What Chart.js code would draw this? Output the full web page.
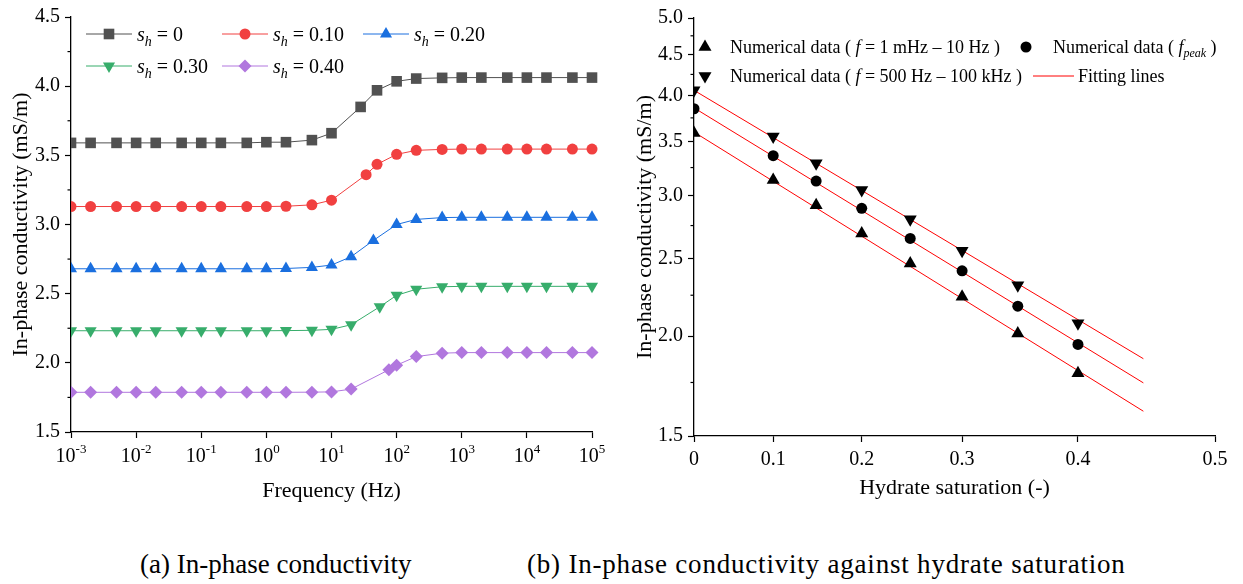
<!DOCTYPE html>
<html>
<head>
<meta charset="utf-8">
<script src="https://cdn.jsdelivr.net/npm/chart.js@4.4.1/dist/chart.umd.min.js"></script>
<style>
  html, body { margin: 0; padding: 0; background: #fff; }
  body { width: 1243px; height: 584px; position: relative; overflow: hidden; font-family: "Liberation Serif", "Times New Roman", serif; }
  #left { position: absolute; left: 0; top: 0; }
  #right { position: absolute; left: 620px; top: 0; }
  .cap { position: absolute; top: 549px; font-size: 27px; color: #000; white-space: nowrap; }
</style>
</head>
<body>
<canvas id="left" width="620" height="515"></canvas>
<canvas id="right" width="623" height="515"></canvas>
<div class="cap" style="left:140px">(a) In-phase conductivity</div>
<div class="cap" style="left:527px; letter-spacing:0.8px">(b) In-phase conductivity against hydrate saturation</div>
<script>
// ---- (a) conductivity vs frequency ----
var shLabels = ['0', '0.10', '0.20', '0.30', '0.40'];

var freqSh0  = [0.001, 0.002, 0.005, 0.01, 0.02, 0.05, 0.1, 0.2, 0.5, 1, 2, 5, 10, 28, 50, 100, 200, 500, 1000, 2000, 5000, 10000, 20000, 50000, 100000];
var freqSh10 = [0.001, 0.002, 0.005, 0.01, 0.02, 0.05, 0.1, 0.2, 0.5, 1, 2, 5, 10, 34, 50, 100, 200, 500, 1000, 2000, 5000, 10000, 20000, 50000, 100000];
var freqSh20 = [0.001, 0.002, 0.005, 0.01, 0.02, 0.05, 0.1, 0.2, 0.5, 1, 2, 5, 10, 20, 44, 100, 200, 500, 1000, 2000, 5000, 10000, 20000, 50000, 100000];
var freqSh30 = [0.001, 0.002, 0.005, 0.01, 0.02, 0.05, 0.1, 0.2, 0.5, 1, 2, 5, 10, 20, 55, 100, 200, 500, 1000, 2000, 5000, 10000, 20000, 50000, 100000];
var freqSh40 = [0.001, 0.002, 0.005, 0.01, 0.02, 0.05, 0.1, 0.2, 0.5, 1, 2, 5, 10, 20, 76, 100, 200, 500, 1000, 2000, 5000, 10000, 20000, 50000, 100000];

var condSh0  = [3.59, 3.59, 3.59, 3.59, 3.59, 3.59, 3.59, 3.59, 3.59, 3.595, 3.595, 3.61, 3.66, 3.85, 3.97, 4.035, 4.055, 4.06, 4.062, 4.062, 4.062, 4.062, 4.062, 4.062, 4.062];
var condSh10 = [3.13, 3.13, 3.13, 3.13, 3.13, 3.13, 3.13, 3.13, 3.13, 3.13, 3.132, 3.142, 3.176, 3.36, 3.435, 3.507, 3.536, 3.543, 3.545, 3.545, 3.545, 3.545, 3.545, 3.545, 3.545];
var condSh20 = [2.68, 2.68, 2.68, 2.68, 2.68, 2.68, 2.68, 2.68, 2.68, 2.68, 2.682, 2.69, 2.707, 2.767, 2.885, 3.0, 3.037, 3.05, 3.052, 3.052, 3.052, 3.052, 3.052, 3.052, 3.052];
var condSh30 = [2.232, 2.232, 2.232, 2.232, 2.232, 2.232, 2.232, 2.232, 2.232, 2.232, 2.233, 2.235, 2.242, 2.275, 2.405, 2.488, 2.532, 2.55, 2.553, 2.553, 2.553, 2.553, 2.553, 2.553, 2.553];
var condSh40 = [1.787, 1.787, 1.787, 1.787, 1.787, 1.787, 1.787, 1.787, 1.787, 1.787, 1.787, 1.788, 1.79, 1.81, 1.95, 1.983, 2.045, 2.07, 2.074, 2.074, 2.074, 2.074, 2.074, 2.074, 2.074];

var freqTicks = [1e-3, 1e-2, 1e-1, 1e0, 1e1, 1e2, 1e3, 1e4, 1e5];
var freqTickExp = ['-3', '-2', '-1', '0', '1', '2', '3', '4', '5'];
var condTicks = [1.5, 2.0, 2.5, 3.0, 3.5, 4.0, 4.5];
var condMinor = [1.75, 2.25, 2.75, 3.25, 3.75, 4.25];

// ---- (b) conductivity vs hydrate saturation ----
var satX      = [0, 0.1, 0.15, 0.2, 0.25, 0.3, 0.35, 0.4];
var condLowF  = [3.59, 3.135, 2.915, 2.688, 2.466, 2.24, 2.015, 1.797];
var condPeak  = [3.85, 3.363, 3.126, 2.89, 2.65, 2.414, 2.18, 1.953];
var condHighF = [4.06, 3.553, 3.29, 3.046, 2.8, 2.557, 2.316, 2.076];

var fitX     = [0, 0.45];
var fitLowF  = [3.60, 1.611];
var fitPeak  = [3.86, 1.748];
var fitHighF = [4.06, 1.874];

var satTicks = [0, 0.1, 0.2, 0.3, 0.4, 0.5];
var satTickLabels = ['0', '0.1', '0.2', '0.3', '0.4', '0.5'];
var logTicks = [1.5, 2.0, 2.5, 3.0, 3.5, 4.0, 4.5, 5.0];
var logMinor = [1.75, 2.25, 2.75, 3.25, 3.75, 4.25, 4.75];

var SERIF = '"Liberation Serif", "Times New Roman", serif';

function toXY(xs, ys) {
    return xs.map(function(x, i) { return { x: x, y: ys[i] }; });
}

// small marker painter for the hand-drawn legends
function marker(ctx, style, x, y, r, color) {
    ctx.save();
    ctx.fillStyle = color;
    ctx.beginPath();
    if (style === 'rect') {
        var h = r * Math.SQRT1_2;
        ctx.rect(x - h, y - h, 2 * h, 2 * h);
    } else if (style === 'circle') {
        ctx.arc(x, y, r, 0, Math.PI * 2);
    } else if (style === 'triangle' || style === 'triangleDown') {
        var s = style === 'triangle' ? 1 : -1;
        ctx.moveTo(x, y - s * r);
        ctx.lineTo(x + r * 0.866, y + s * r * 0.5);
        ctx.lineTo(x - r * 0.866, y + s * r * 0.5);
        ctx.closePath();
    } else if (style === 'rectRot') {
        ctx.moveTo(x, y - r); ctx.lineTo(x + r, y); ctx.lineTo(x, y + r); ctx.lineTo(x - r, y);
        ctx.closePath();
    }
    ctx.fill();
    ctx.restore();
}

// x axis of (b): positions follow -ln(1 - sh)
class SaturationScale extends Chart.LinearScale {
    buildTicks() {
        return satTicks.map(function(v) { return { value: v }; });
    }
    configure() {
        super.configure();
        this._t0 = -Math.log(1 - this.min);
        this._t1 = -Math.log(1 - this.max);
    }
    getPixelForValue(v) {
        var t = -Math.log(1 - v);
        return this.getPixelForDecimal((t - this._t0) / (this._t1 - this._t0));
    }
    getValueForPixel(p) {
        var t = this._t0 + this.getDecimalForPixel(p) * (this._t1 - this._t0);
        return 1 - Math.exp(-t);
    }
}
SaturationScale.id = 'saturation';
SaturationScale.defaults = {};
Chart.register(SaturationScale);

var axisCommon = {
    grid: { drawOnChartArea: false, drawTicks: true, tickLength: 6, color: '#000', tickWidth: 1.2 },
    border: { display: true, color: '#000', width: 1.3 }
};

// ---------- chart (a) ----------
var shColors = ['#515151', '#F14040', '#1A6FDF', '#37AD6B', '#B177DE'];
var shStyles = [
    { style: 'rect', rot: 0, r: 7.5 },
    { style: 'circle', rot: 0, r: 5.5 },
    { style: 'triangle', rot: 0, r: 7 },
    { style: 'triangle', rot: 180, r: 7 },
    { style: 'rectRot', rot: 0, r: 6.5 }
];
var shFreq = [freqSh0, freqSh10, freqSh20, freqSh30, freqSh40];
var shCond = [condSh0, condSh10, condSh20, condSh30, condSh40];

var leftSets = shLabels.map(function(lab, i) {
    return {
        label: 's_h = ' + lab,
        data: toXY(shFreq[i], shCond[i]),
        borderColor: shColors[i],
        borderWidth: 1,
        backgroundColor: shColors[i],
        pointBackgroundColor: shColors[i],
        pointBorderColor: shColors[i],
        pointBorderWidth: 0,
        pointStyle: shStyles[i].style,
        pointRotation: shStyles[i].rot,
        pointRadius: shStyles[i].r,
        tension: 0,
        clip: { left: 0, top: false, right: false, bottom: 0 }
    };
});

var leftLegendPos = [
    { x: 86, y: 34 }, { x: 222, y: 34 }, { x: 363, y: 34 },
    { x: 86, y: 66 }, { x: 222, y: 66 }
];

var leftDecor = {
    id: 'leftDecor',
    afterDraw: function(chart) {
        var ctx = chart.ctx, area = chart.chartArea;
        var xs = chart.scales.x, ys = chart.scales.y;
        ctx.save();
        ctx.strokeStyle = '#000';
        ctx.lineWidth = 1.2;
        condMinor.forEach(function(v) {
            var py = ys.getPixelForValue(v);
            ctx.beginPath(); ctx.moveTo(area.left - 3.5, py); ctx.lineTo(area.left, py); ctx.stroke();
        });

        // decade labels with superscripts
        ctx.fillStyle = '#000';
        ctx.textBaseline = 'alphabetic';
        freqTicks.forEach(function(v, i) {
            var px = xs.getPixelForValue(v);
            ctx.font = '20px ' + SERIF;
            var wb = ctx.measureText('10').width;
            ctx.font = '13px ' + SERIF;
            var we = ctx.measureText(freqTickExp[i]).width;
            var x0 = px - (wb + we) / 2;
            ctx.font = '20px ' + SERIF;
            ctx.textAlign = 'left';
            ctx.fillText('10', x0, 462);
            ctx.font = '13px ' + SERIF;
            ctx.fillText(freqTickExp[i], x0 + wb, 453);
        });

        // axis titles
        ctx.font = '22px ' + SERIF;
        ctx.textAlign = 'center';
        ctx.fillText('Frequency (Hz)', (area.left + area.right) / 2, 497);
        ctx.save();
        ctx.translate(27, (area.top + area.bottom) / 2);
        ctx.rotate(-Math.PI / 2);
        ctx.fillText('In-phase conductivity (mS/m)', 0, 0);
        ctx.restore();

        // legend
        leftLegendPos.forEach(function(p, i) {
            ctx.strokeStyle = shColors[i];
            ctx.lineWidth = 1;
            ctx.beginPath(); ctx.moveTo(p.x, p.y); ctx.lineTo(p.x + 46, p.y); ctx.stroke();
            marker(ctx, shStyles[i].rot ? 'triangleDown' : shStyles[i].style, p.x + 23, p.y, shStyles[i].r, shColors[i]);
            ctx.fillStyle = '#000';
            ctx.textAlign = 'left';
            var tx = p.x + 51, by = p.y + 7;
            ctx.font = 'italic 20px ' + SERIF;
            ctx.fillText('s', tx, by);
            tx += ctx.measureText('s').width;
            ctx.font = 'italic 14px ' + SERIF;
            ctx.fillText('h', tx, by + 5);
            tx += ctx.measureText('h').width;
            ctx.font = '20px ' + SERIF;
            ctx.fillText(' = ' + shLabels[i], tx, by);
        });
        ctx.restore();
    }
};

new Chart(document.getElementById('left'), {
    type: 'line',
    data: { datasets: leftSets },
    options: {
        responsive: false,
        animation: false,
        layout: { padding: { left: 0, top: 14, right: 28, bottom: 0 } },
        plugins: { legend: { display: false }, tooltip: { enabled: false } },
        scales: {
            x: Object.assign({}, axisCommon, {
                type: 'logarithmic',
                min: 1e-3,
                max: 1e5,
                afterBuildTicks: function(s) { s.ticks = freqTicks.map(function(v) { return { value: v }; }); },
                ticks: { display: false },
                afterFit: function(s) { s.height = 83; }
            }),
            y: Object.assign({}, axisCommon, {
                type: 'linear',
                min: 1.5,
                max: 4.5,
                afterBuildTicks: function(s) { s.ticks = condTicks.map(function(v) { return { value: v }; }); },
                ticks: { color: '#000', padding: 5, font: { family: SERIF, size: 20 }, callback: function(v) { return v.toFixed(1); } },
                afterFit: function(s) { s.width = 71; }
            })
        }
    },
    plugins: [leftDecor]
});

// ---------- chart (b) ----------
var rightSets = [
    { label: 'Numerical data ( f = 1 mHz – 10 Hz )', data: toXY(satX, condLowF), pointStyle: 'triangle', pointRotation: 0, pointRadius: 7.5 },
    { label: 'Numerical data ( f_peak )', data: toXY(satX, condPeak), pointStyle: 'circle', pointRotation: 0, pointRadius: 5.5 },
    { label: 'Numerical data ( f = 500 Hz – 100 kHz )', data: toXY(satX, condHighF), pointStyle: 'triangle', pointRotation: 180, pointRadius: 7.5 }
].map(function(d) {
    return Object.assign(d, {
        showLine: false,
        backgroundColor: '#000',
        borderColor: '#000',
        pointBorderWidth: 0,
        clip: { left: 0, top: false, right: false, bottom: 0 }
    });
});
[fitLowF, fitPeak, fitHighF].forEach(function(f) {
    rightSets.push({
        label: 'Fitting lines',
        data: toXY(fitX, f),
        showLine: true,
        borderColor: '#FF0000',
        borderWidth: 1,
        pointRadius: 0,
        clip: { left: 0, top: false, right: false, bottom: 0 }
    });
});

var rightDecor = {
    id: 'rightDecor',
    afterDraw: function(chart) {
        var ctx = chart.ctx, area = chart.chartArea;
        var ys = chart.scales.y;
        ctx.save();
        ctx.strokeStyle = '#000';
        ctx.lineWidth = 1.2;
        logMinor.forEach(function(v) {
            var py = ys.getPixelForValue(v);
            ctx.beginPath(); ctx.moveTo(area.left - 3.5, py); ctx.lineTo(area.left, py); ctx.stroke();
        });

        ctx.fillStyle = '#000';
        ctx.font = '22px ' + SERIF;
        ctx.textAlign = 'center';
        ctx.fillText('Hydrate saturation (-)', (area.left + area.right) / 2, 494);
        ctx.save();
        ctx.translate(31, (area.top + area.bottom) / 2);
        ctx.rotate(-Math.PI / 2);
        ctx.fillText('In-phase conductivity (mS/m)', 0, 0);
        ctx.restore();

        // legend
        ctx.textAlign = 'left';
        function seg(parts, x, y) {
            parts.forEach(function(p) {
                ctx.font = (p.it ? 'italic ' : '') + (p.sub ? '12px ' : '18px ') + SERIF;
                ctx.fillText(p.t, x, y + (p.sub ? 4 : 0));
                x += ctx.measureText(p.t).width;
            });
        }
        marker(ctx, 'triangle', 85, 47, 7.5, '#000');
        seg([{ t: 'Numerical data ( ' }, { t: 'f', it: true }, { t: ' = 1 mHz – 10 Hz )' }], 110, 53);
        marker(ctx, 'circle', 406, 47, 5.5, '#000');
        seg([{ t: 'Numerical data ( ' }, { t: 'f', it: true }, { t: 'peak', it: true, sub: true }, { t: ' )' }], 433, 53);
        marker(ctx, 'triangleDown', 85, 76, 7.5, '#000');
        seg([{ t: 'Numerical data ( ' }, { t: 'f', it: true }, { t: ' = 500 Hz – 100 kHz )' }], 110, 82);
        ctx.strokeStyle = '#FF0000';
        ctx.lineWidth = 1;
        ctx.beginPath(); ctx.moveTo(413, 76); ctx.lineTo(454, 76); ctx.stroke();
        seg([{ t: 'Fitting lines' }], 458, 82);
        ctx.restore();
    }
};

new Chart(document.getElementById('right'), {
    type: 'scatter',
    data: { datasets: rightSets },
    options: {
        responsive: false,
        animation: false,
        layout: { padding: { left: 0, top: 18, right: 28, bottom: 0 } },
        plugins: { legend: { display: false }, tooltip: { enabled: false } },
        scales: {
            x: Object.assign({}, axisCommon, {
                type: 'saturation',
                min: 0,
                max: 0.5,
                ticks: { color: '#000', padding: 6, font: { family: SERIF, size: 20 }, callback: function(v, i) { return satTickLabels[i]; } },
                afterFit: function(s) { s.height = 79; }
            }),
            y: Object.assign({}, axisCommon, {
                type: 'logarithmic',
                min: 1.5,
                max: 5.0,
                afterBuildTicks: function(s) { s.ticks = logTicks.map(function(v) { return { value: v }; }); },
                ticks: { color: '#000', padding: 5, font: { family: SERIF, size: 20 }, callback: function(v) { return v.toFixed(1); } },
                afterFit: function(s) { s.width = 74; }
            })
        }
    },
    plugins: [rightDecor]
});
</script>
</body>
</html>
